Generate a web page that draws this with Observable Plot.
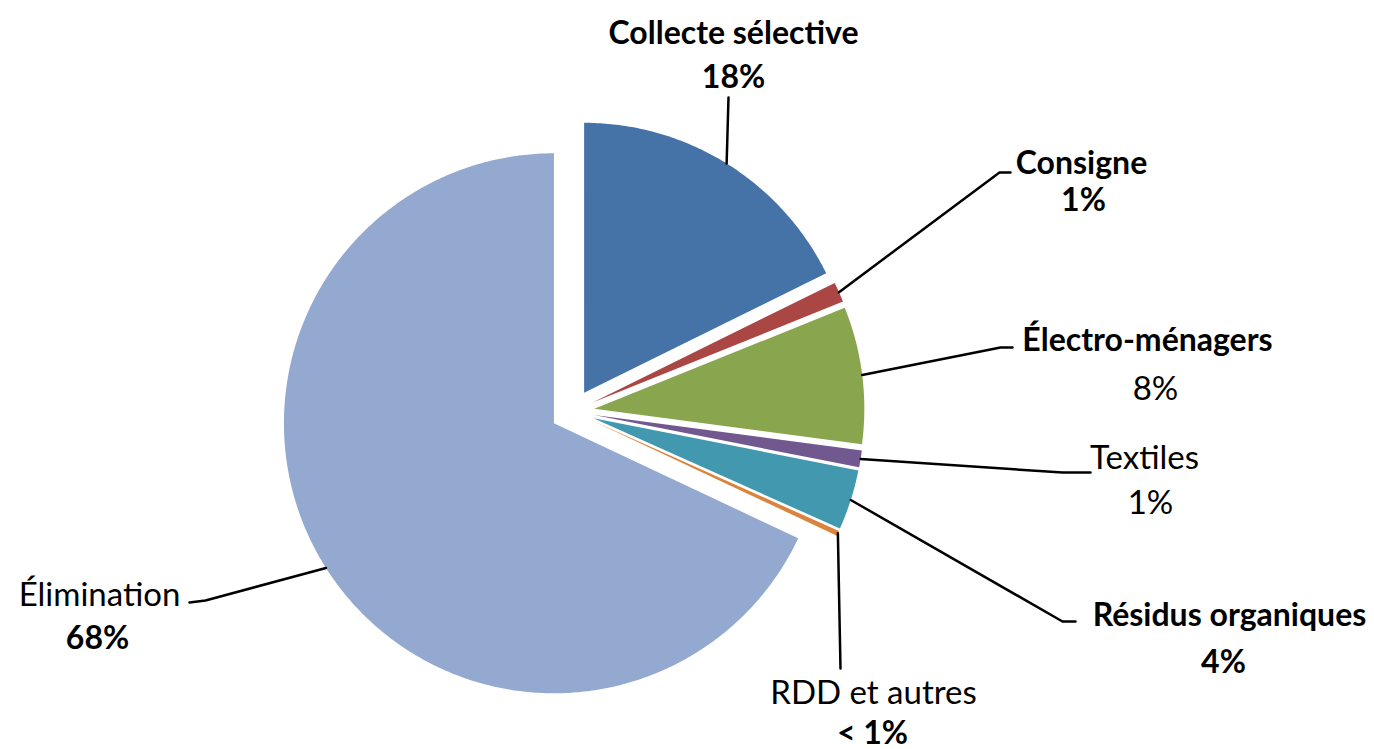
<!DOCTYPE html>
<html><head><meta charset="utf-8">
<script src="https://cdn.jsdelivr.net/npm/d3@7"></script>
<script src="https://cdn.jsdelivr.net/npm/@observablehq/plot@0.6"></script>
<style>html,body{margin:0;padding:0;background:#fff;overflow:hidden}</style>
</head><body><div id="chart"></div>
<script>
// ---- data ----
const categories = ["Collecte sélective","Consigne","Électro-ménagers","Textiles","Résidus organiques","RDD et autres","Élimination"];
const values = [17.7, 1.2, 8.2, 1.0, 3.6, 0.3, 68.0];
const valueLabels = ["18%","1%","8%","1%","4%","< 1%","68%"];
const colors = ["#4572A7","#AA4643","#89A54E","#71588F","#4198AF","#DB843D","#94A9CF"];

// ---- layout (pixels) ----
const W = 1374, H = 749, CX = 572, CY = 411, R = 270, EXPLODE = 22;
const labelLayout = [
  {elbow: [[728, 97]],                name: [733, 43],   val: [733, 87],  nameBold: true,  valBold: true},
  {elbow: [[999, 172], [1010, 172]],  name: [1081, 173], val: [1083, 210], nameBold: true,  valBold: true},
  {elbow: [[1000, 347], [1012, 347]], name: [1147, 350], val: [1155, 399], nameBold: true,  valBold: false},
  {elbow: [[1062, 472], [1090, 472]], name: [1144, 468], val: [1150, 513], nameBold: false, valBold: false},
  {elbow: [[1062, 621], [1075, 621]], name: [1229, 625], val: [1223, 672], nameBold: true,  valBold: true},
  {elbow: [[840, 668]],               name: [873, 703],  val: [872, 743],  nameBold: false, valBold: true},
  {elbow: [[205, 600], [189, 602]],   name: [99, 605],   val: [97, 648],   nameBold: false, valBold: true}
];

// ---- geometry from data ----
const arcs = d3.pie().sort(null).value(d => d)(values);
const slicePts = [];
const leaderPts = [];
const texts = [];
arcs.forEach((a, i) => {
  const mid = (a.startAngle + a.endAngle) / 2;
  const ax = CX + EXPLODE * Math.sin(mid), ay = CY - EXPLODE * Math.cos(mid);
  const name = categories[i];
  slicePts.push({name, x: ax, y: ay});
  const n = Math.max(2, Math.ceil((a.endAngle - a.startAngle) / 0.01));
  for (let k = 0; k <= n; k++) {
    const t = a.startAngle + (a.endAngle - a.startAngle) * k / n;
    slicePts.push({name, x: ax + R * Math.sin(t), y: ay - R * Math.cos(t)});
  }
  const L = labelLayout[i];
  leaderPts.push({name, x: ax + R * Math.sin(mid), y: ay - R * Math.cos(mid)});
  L.elbow.forEach(([x, y]) => leaderPts.push({name, x, y}));
  texts.push({text: name, x: L.name[0], y: L.name[1], bold: L.nameBold});
  texts.push({text: valueLabels[i], x: L.val[0], y: L.val[1], bold: L.valBold});
});

const font = "Lato, Calibri, Carlito, sans-serif";
const chart = Plot.plot({
  width: W, height: H,
  margin: 0,
  x: {domain: [0, W], range: [0, W], axis: null},
  y: {domain: [0, H], range: [0, H], axis: null},
  color: {domain: categories, range: colors},
  marks: [
    Plot.line(slicePts, {x: "x", y: "y", z: "name", fill: "name", stroke: "none", curve: "linear-closed"}),
    Plot.line(leaderPts, {x: "x", y: "y", z: "name", stroke: "#000", strokeWidth: 2.5, curve: "linear"}),
    Plot.text(texts.filter(d => d.bold), {x: "x", y: "y", text: "text", textAnchor: "middle", lineAnchor: "bottom", fontSize: 32, fontWeight: "bold", fontFamily: font, fill: "#000"}),
    Plot.text(texts.filter(d => !d.bold), {x: "x", y: "y", text: "text", textAnchor: "middle", lineAnchor: "bottom", fontSize: 33, fontWeight: "normal", fontFamily: font, fill: "#000"})
  ]
});
document.getElementById("chart").appendChild(chart);
</script>
</body></html>
